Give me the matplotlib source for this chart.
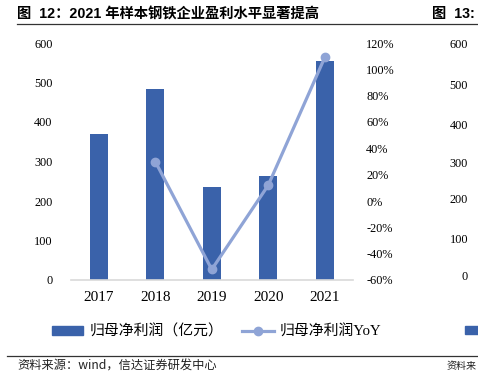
import matplotlib
matplotlib.use("Agg")
import matplotlib.pyplot as plt
from matplotlib.patches import Rectangle
from matplotlib.lines import Line2D

# ---------------- data ----------------
years = ["2017", "2018", "2019", "2020", "2021"]
profit = [370, 483, 235, 264, 554]          # 归母净利润（亿元）
yoy_years = ["2018", "2019", "2020", "2021"]
yoy = [30, -52, 12, 109]                     # 归母净利润YoY (%)
left_ticks = [0, 100, 200, 300, 400, 500, 600]
right_ticks = [-60, -40, -20, 0, 20, 40, 60, 80, 100, 120]

title = "图  12：2021 年样本钢铁企业盈利水平显著提高"
legend_bar = "归母净利润（亿元）"
legend_line = "归母净利润YoY"
source = "资料来源：wind，信达证券研发中心"

# ---------------- style ----------------
W, H = 478, 381
BAR = "#3A62AA"
LINE = "#8FA4D6"
SERIF = ["Liberation Serif", "Noto Sans CJK SC"]
SANS = ["Liberation Sans", "Noto Sans CJK SC"]
CJK = ["Noto Sans CJK SC", "DejaVu Sans"]

plt.rcParams["font.family"] = SERIF
fig = plt.figure(figsize=(W / 100, H / 100), dpi=100)

def fx(px):
    return px / W

def fy(py):
    return 1 - py / H

ax = fig.add_axes([fx(70.5), fy(280), fx(353) - fx(70.5), fy(43) - fy(280)])
x = list(range(len(years)))
ax.bar(x, profit, width=0.31, color=BAR, zorder=2)
ax.set_xlim(-0.5, len(years) - 0.5)
ax.set_ylim(left_ticks[0], left_ticks[-1])
ax.set_yticks(left_ticks)
ax.set_yticklabels([str(v) for v in left_ticks], fontsize=8.8, fontfamily=SERIF)
ax.set_xticks(x)
ax.set_xticklabels(years, fontsize=11, fontfamily=SERIF)
ax.tick_params(axis="y", length=0, pad=13)
ax.tick_params(axis="x", length=0, pad=8)
for s in ["left", "right", "top"]:
    ax.spines[s].set_visible(False)
ax.spines["bottom"].set_color("#D9D9D9")
ax.spines["bottom"].set_linewidth(1.2)

ax2 = ax.twinx()
xi = [years.index(y) for y in yoy_years]
ax2.plot(xi, yoy, color=LINE, lw=2.3, marker="o", ms=6, zorder=3,
         solid_capstyle="round")
ax2.set_ylim(right_ticks[0], right_ticks[-1])
ax2.set_yticks(right_ticks)
ax2.set_yticklabels([f"{v}%" for v in right_ticks], fontsize=8.8, fontfamily=SERIF)
ax2.tick_params(axis="y", length=0, pad=9.5)
for s in ["left", "right", "top", "bottom"]:
    ax2.spines[s].set_visible(False)

# legend
handles = [Rectangle((0, 0), 1, 1, color=BAR),
           Line2D([0], [0], color=LINE, lw=2.3, marker="o", ms=6)]
fig.legend(handles, [legend_bar, legend_line], loc="center left",
           bbox_to_anchor=(fx(52), fy(332)), bbox_transform=fig.transFigure,
           ncol=2, frameon=False, fontsize=10.7, handlelength=2.1,
           handleheight=0.52, handletextpad=0.4, columnspacing=1.3,
           borderpad=0, borderaxespad=0)

# title, rules, source
fig.text(fx(17), fy(14), title, fontsize=10.3, fontweight="bold",
         family=SANS, va="center", ha="left")
fig.add_artist(Line2D([fx(17), 1], [fy(24), fy(24)], color="#333333", lw=0.9))
fig.add_artist(Line2D([fx(7), 1], [fy(356), fy(356)], color="#333333", lw=0.9))
fig.text(fx(17), fy(366), source, fontsize=8.8, family=CJK,
         va="center", ha="left", color="#222222")

# cut-off neighbouring chart at the right edge
fig.text(fx(432), fy(14), "图  13:", fontsize=10.3, fontweight="bold",
         family=SANS, va="center", ha="left")
for v, py in zip([600, 500, 400, 300, 200, 100, 0],
                 [45, 86, 126, 164, 200, 240, 277]):
    fig.text(fx(468), fy(py), str(v), fontsize=8.8, family=SERIF,
             va="center", ha="right")
fig.add_artist(Rectangle((fx(465), fy(334)), fx(478) - fx(465), fy(326) - fy(334),
                         color=BAR, transform=fig.transFigure))
fig.text(fx(447), fy(366), "资料来", fontsize=7.2, family=CJK,
         va="center", ha="left", color="#222222")

fig.savefig("out.png", dpi=100)
